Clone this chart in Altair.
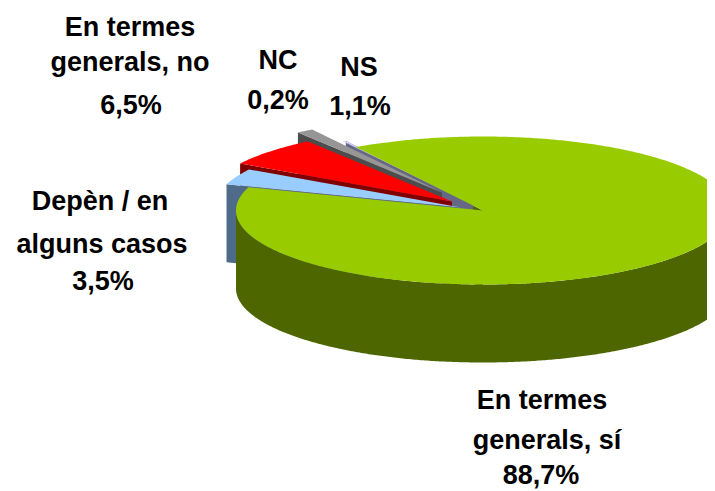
import math
import altair as alt

# --- data (drawing order, counter-clockwise on screen from the far side)
names = ["NC", "NS", "En termes generals, no", "Depèn / en alguns casos", "En termes generals, sí"]
shares = [0.2, 1.1, 6.5, 3.5, 88.7]
top_colors = ["#CCCCFF", "#969696", "#FF0000", "#99CCFF", "#99CC00"]
wall_colors = ["#666685", "#4D4D4D", "#800000", "#4F6B8A", "#4D6600"]

# label line breaks per slice
label_lines = [["NC"], ["NS"], ["En termes", "generals, no"], ["Depèn / en", "alguns casos"], ["En termes", "generals, sí"]]

# --- drawing geometry, in page pixels
CX, CY, RX, RY, DEPTH = 483, 210.5, 247, 74, 78
START = 121.0
offsets = [(-10, -6), (-41, -18), (-31, -9), (-22, -3), (0, 0)]
label_pos = [
    [(278, 60.5), (278, 100.5)],
    [(359, 67.5), (360, 106.5)],
    [(130, 28), (130, 63), (131, 106)],
    [(100, 202), (102, 245), (103, 282)],
    [(542, 400.5), (547, 440.5), (541, 476)],
]
FONT_SIZE = 27


def rim(t, off, down=0.0):
    a = math.radians(t)
    return [CX + off[0] + RX * math.cos(a), CY + off[1] - RY * math.sin(a) + down]


def arc(t0, t1, off, down=0.0):
    n = max(2, int(abs(t1 - t0) * 2))
    return [rim(t0 + (t1 - t0) * i / n, off, down) for i in range(n + 1)]


def feature(ring, key):
    ring = ring + [ring[0]]
    return {"type": "Feature", "properties": {"key": key}, "geometry": {"type": "Polygon", "coordinates": [ring]}}


spans = []
t = START
for s in shares:
    spans.append((t, t + s * 3.6))
    t += s * 3.6

features = []
# cut face of the big slice, seen through the gap
g0, g1 = spans[-1]
gcut = [[CX, CY], rim(START, (0, 0)), rim(START, (0, 0), DEPTH), [CX, CY + DEPTH]]
features.append(feature(gcut, "wall4"))
for i in range(4):
    t0, t1 = spans[i]
    off = offsets[i]
    apex = [CX + off[0], CY + off[1]]
    wall_t = t0 if i == 0 else t1
    wall = [apex, rim(wall_t, off), rim(wall_t, off, DEPTH), [apex[0], apex[1] + DEPTH]]
    features.append(feature(wall, f"wall{i}"))
    features.append(feature([apex] + arc(t0, t1, off), f"top{i}"))
# outer wall and top of the big slice
features.append(feature(arc(180, 360, (0, 0)) + arc(360, 180, (0, 0), DEPTH), "wall4"))
features.append(feature([[CX, CY]] + arc(g0, g1, (0, 0)), "top4"))

domain = [f"top{i}" for i in range(5)] + [f"wall{i}" for i in range(5)]
color_range = top_colors + wall_colors

pie = (
    alt.Chart(alt.Data(values=features))
    .mark_geoshape(stroke=None, clip=True)
    .encode(
        color=alt.Color("properties.key:N", scale=alt.Scale(domain=domain, range=color_range), legend=None)
    )
    .project(type="identity", scale=1, translate=[-8, -8])
)

rows = []
for i, lines in enumerate(label_lines):
    texts = lines + [f"{shares[i]:.1f}%".replace(".", ",")]
    for txt, (x, y) in zip(texts, label_pos[i]):
        rows.append({"txt": txt, "px": x - 8, "py": y - 8})

labels = (
    alt.Chart(alt.Data(values=rows))
    .mark_text(font="Liberation Sans", fontWeight="bold", fontSize=FONT_SIZE, color="#000000", align="center", baseline="middle")
    .encode(x=alt.X("px:Q", scale=None, axis=None), y=alt.Y("py:Q", scale=None, axis=None), text="txt:N")
)

chart = (
    alt.layer(pie, labels)
    .properties(width=699, height=483, padding=0, autosize=alt.AutoSizeParams(type="none"))
    .configure_view(stroke=None)
)
chart.save("out.html", embed_options={"renderer": "svg", "actions": False})
